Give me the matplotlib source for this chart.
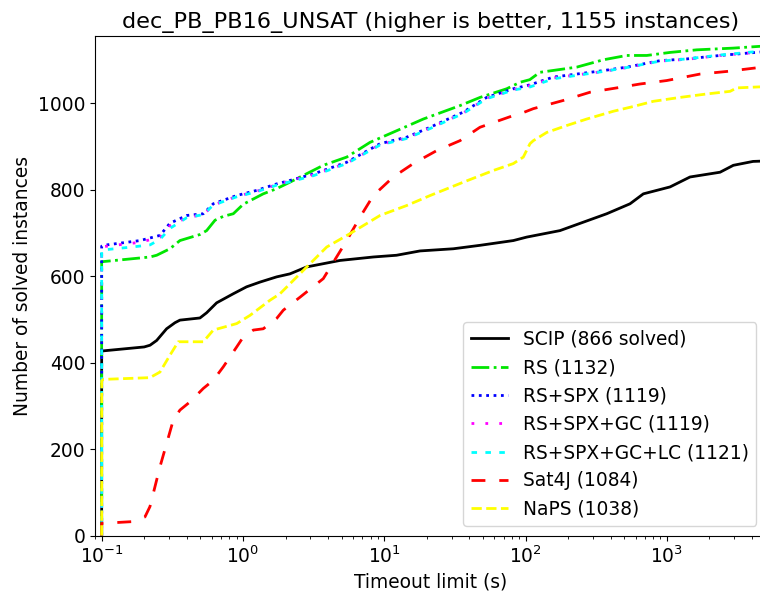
import matplotlib
matplotlib.use("Agg")
import matplotlib.pyplot as plt

plt.rcParams['font.family'] = ['DejaVu Sans']
plt.rcParams['font.size'] = 13.4

title = "dec_PB_PB16_UNSAT (higher is better, 1155 instances)"
xlabel = "Timeout limit (s)"
ylabel = "Number of solved instances"

labels = ["SCIP (866 solved)", "RS (1132)", "RS+SPX (1119)", "RS+SPX+GC (1119)",
          "RS+SPX+GC+LC (1121)", "Sat4J (1084)", "NaPS (1038)"]
colors = ["black", "#00e600", "blue", "magenta", "cyan", "red", "yellow"]
styles = ["-", "-.", ":", (0, (1, 4)), (0, (2, 3)), (0, (5, 5)), "--"]

scip_t = [0.1, 0.1, 0.103, 0.2, 0.22, 0.245, 0.288, 0.33, 0.358, 0.496, 0.553, 0.651, 0.854,
          1.06, 1.32, 1.73, 2.15, 2.82, 4.86, 8.36, 12.2, 17.9, 30.8, 47.6, 81.9, 101.8,
          175, 375, 548, 681, 1052, 1457, 2376, 2951, 4069, 5000]
scip_n = [0, 426, 427, 436, 440, 451, 478, 492, 498, 503, 515, 538, 559,
          575, 586, 598, 605, 621, 636, 644, 648, 658, 663, 671, 682, 690,
          705, 744, 767, 790, 806, 829, 840, 856, 865, 866]

rs_t = [0.1, 0.1, 0.22, 0.245, 0.304, 0.358, 0.496, 0.553, 0.634, 0.726, 0.854, 1.005,
        1.39, 1.73, 2.15, 3.7, 5.42, 7.92, 12.24, 18.88, 34.3, 47.6, 73.5, 91.3, 107,
        126, 230, 355, 519, 720, 1052, 1625, 2951, 5000]
rs_n = [0, 633, 644, 648, 663, 682, 696, 705, 729, 738, 744, 766,
        790, 802, 817, 856, 875, 909, 936, 963, 994, 1013, 1033, 1048, 1054,
        1071, 1083, 1100, 1110, 1110, 1117, 1123, 1127, 1132]

spx_t = [0.1, 0.1, 0.103, 0.187, 0.259, 0.304, 0.4, 0.524, 0.616, 0.9, 1.25, 1.73, 2.15,
         3.15, 5.42, 9.33, 14.4, 21.1, 36.2, 53.0, 81.9, 107, 157, 355, 519, 894, 1381,
         2376, 5000]
spx_n = [0, 669, 671, 682, 694, 722, 740, 744, 767, 786, 798, 813, 821,
         836, 863, 906, 921, 944, 979, 1013, 1033, 1042, 1060, 1075, 1083, 1098, 1102,
         1110, 1119]

gc_t = [0.1, 0.1, 0.103, 0.187, 0.259, 0.304, 0.4, 0.524, 0.616, 0.9, 1.25, 1.73, 2.15,
        3.15, 5.42, 9.33, 14.4, 21.1, 36.2, 53.0, 81.9, 107, 157, 355, 519, 894, 1381,
        2376, 5000]
gc_n = [0, 666, 668, 678, 690, 716, 735, 742, 764, 784, 796, 811, 820,
        834, 861, 904, 919, 942, 977, 1011, 1031, 1040, 1058, 1073, 1082, 1097, 1101,
        1110, 1119]

lc_t = [0.1, 0.1, 0.163, 0.22, 0.259, 0.304, 0.4, 0.524, 0.616, 0.9, 1.25, 1.73, 2.15,
        3.15, 5.42, 9.33, 14.4, 21.1, 36.2, 53.0, 81.9, 107, 157, 355, 519, 894, 1381,
        2376, 5000]
lc_n = [0, 660, 667, 672, 685, 710, 735, 742, 764, 783, 795, 810, 818,
        832, 860, 903, 918, 941, 976, 1010, 1030, 1037, 1056, 1073, 1082, 1097, 1102,
        1111, 1121]

sat_t = [0.1, 0.1, 0.163, 0.2025, 0.2197, 0.2384, 0.2586, 0.2884, 0.3212, 0.358, 0.4217,
         0.5236, 0.6164, 0.7255, 0.9025, 1.005, 1.183, 1.392, 1.732, 1.929, 2.532, 3.701,
         5.42, 6.73, 8.36, 11.58, 16.04, 23.49, 34.34, 47.56, 81.85, 91.3, 113.4, 184.9,
         285.7, 441.4, 645, 996.8, 1715, 2650, 5000]
sat_n = [0, 28, 32, 43, 67, 113, 159, 213, 267, 290, 309,
         340, 359, 390, 436, 459, 475, 478, 502, 521, 551, 594,
         682, 736, 786, 829, 860, 890, 913, 944, 971, 975, 987, 1006,
         1025, 1035, 1044, 1052, 1067, 1073, 1084]

naps_t = [0.1, 0.1, 0.103, 0.2197, 0.2586, 0.3043, 0.3484, 0.5236, 0.6164, 0.9025, 1.121,
          1.553, 1.828, 2.673, 3.912, 5.719, 9.325, 14.4, 21.06, 36.24, 59.07, 81.85, 96.3,
          107.4, 113.4, 141.1, 195.4, 270.7, 417.7, 578.4, 801.5, 1238, 1913, 2797, 3119, 5000]
naps_n = [0, 358, 361, 365, 378, 417, 448, 448, 475, 490, 509,
          544, 559, 613, 667, 698, 740, 763, 786, 817, 844, 860, 875,
          906, 913, 932, 948, 963, 981, 992, 1004, 1013, 1021, 1027, 1035, 1038]

series = [(scip_t, scip_n), (rs_t, rs_n), (spx_t, spx_n), (gc_t, gc_n),
          (lc_t, lc_n), (sat_t, sat_n), (naps_t, naps_n)]

fig = plt.figure(figsize=(7.6, 5.97), dpi=100)
ax = fig.add_axes([95.2 / 760, 61.5 / 597, 670.5 / 760, 499.5 / 597])

for (t, n), lab, c, ls in zip(series, labels, colors, styles):
    ax.plot(t, n, color=c, linestyle=ls, linewidth=2, label=lab)

ax.set_xscale('log')
ax.set_xlim(0.09, 5000)
ax.set_ylim(0, 1155)
ax.set_title(title, fontsize=16.1)
ax.set_xlabel(xlabel, fontsize=13.4)
ax.set_ylabel(ylabel, fontsize=13.4)
ax.tick_params(labelsize=13.4)
ax.legend(loc='lower right', fontsize=13.4)

fig.savefig("out.png", dpi=100)
